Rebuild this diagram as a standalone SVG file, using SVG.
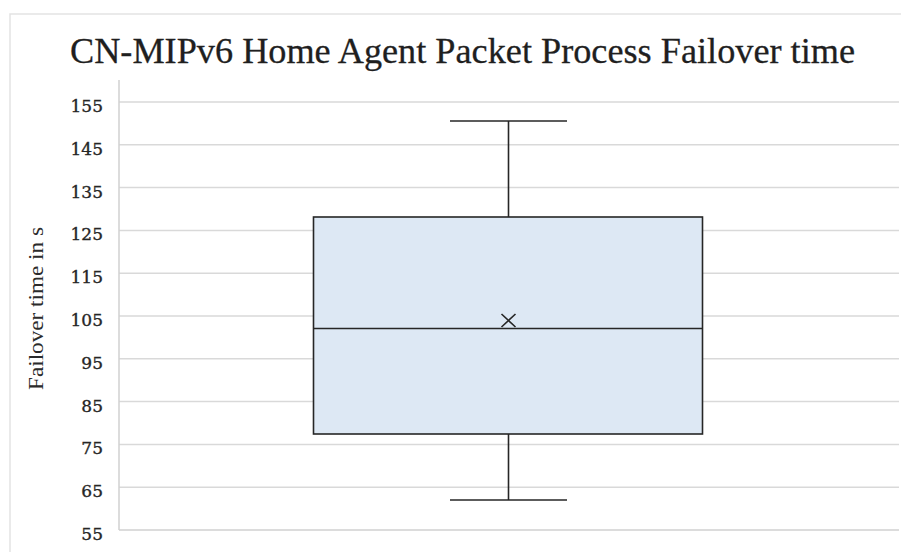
<svg xmlns="http://www.w3.org/2000/svg" width="901" height="552" viewBox="0 0 901 552">
  <style>
    .frame { fill: #ffffff; stroke: #e3e3e3; stroke-width: 1.5; }
    .grid { stroke: #d9d9d9; stroke-width: 1.5; fill: none; }
    .axis { stroke: #d0d0d0; stroke-width: 1.5; fill: none; }
    .tick { font-family: "DejaVu Serif", "Liberation Serif", serif; font-size: 17px; fill: #262626; stroke: #262626; stroke-width: 0.35; text-anchor: end; }
    .title { font-family: "Liberation Serif", serif; font-size: 36px; fill: #1f1f1f; stroke: #1f1f1f; stroke-width: 0.3; }
    .ytitle { font-family: "Liberation Serif", serif; font-size: 20px; fill: #2b2b2b; text-anchor: middle; }
    .box { fill: #dde8f4; stroke: #262626; stroke-width: 1.6; }
    .whisker { stroke: #262626; stroke-width: 1.6; fill: none; }
  </style>

  <rect x="0" y="0" width="901" height="552" fill="#ffffff"/>
  <rect class="frame" x="10" y="14" width="900" height="560"/>

  <text class="title" x="70" y="63" textLength="785" lengthAdjust="spacingAndGlyphs">CN-MIPv6 Home Agent Packet Process Failover time</text>

  <!-- horizontal gridlines, 10 s apart -->
  <g id="gridlines">
    <line class="grid" x1="119" y1="102" x2="899" y2="102"/>
    <line class="grid" x1="119" y1="144.8" x2="899" y2="144.8"/>
    <line class="grid" x1="119" y1="187.6" x2="899" y2="187.6"/>
    <line class="grid" x1="119" y1="230.4" x2="899" y2="230.4"/>
    <line class="grid" x1="119" y1="273.2" x2="899" y2="273.2"/>
    <line class="grid" x1="119" y1="316" x2="899" y2="316"/>
    <line class="grid" x1="119" y1="358.8" x2="899" y2="358.8"/>
    <line class="grid" x1="119" y1="401.6" x2="899" y2="401.6"/>
    <line class="grid" x1="119" y1="444.4" x2="899" y2="444.4"/>
    <line class="grid" x1="119" y1="487.2" x2="899" y2="487.2"/>
    <line class="axis" x1="119" y1="530" x2="899" y2="530"/>
    <line class="axis" x1="119" y1="80" x2="119" y2="530"/>
  </g>

  <g id="y-ticks">
    <text class="tick" x="103" y="112">155</text>
    <text class="tick" x="103" y="154.8">145</text>
    <text class="tick" x="103" y="197.6">135</text>
    <text class="tick" x="103" y="240.4">125</text>
    <text class="tick" x="103" y="283.2">115</text>
    <text class="tick" x="103" y="326">105</text>
    <text class="tick" x="103" y="368.8">95</text>
    <text class="tick" x="103" y="411.6">85</text>
    <text class="tick" x="103" y="454.4">75</text>
    <text class="tick" x="103" y="497.2">65</text>
    <text class="tick" x="103" y="540">55</text>
  </g>

  <text class="ytitle" transform="translate(43,308.5) rotate(-90)" textLength="163" lengthAdjust="spacingAndGlyphs">Failover time in s</text>

  <g id="boxplot">
    <line class="whisker" x1="508.5" y1="121" x2="508.5" y2="217"/>
    <line class="whisker" x1="450" y1="121" x2="567" y2="121"/>
    <rect class="box" x="313.5" y="217" width="389" height="217"/>
    <line class="whisker" x1="313.5" y1="328.5" x2="702.5" y2="328.5"/>
    <line class="whisker" x1="508.5" y1="434" x2="508.5" y2="500"/>
    <line class="whisker" x1="450" y1="500" x2="567" y2="500"/>
    <!-- mean marker -->
    <path class="whisker" d="M501.5 314 L515.5 327 M515.5 314 L501.5 327"/>
  </g>
</svg>
